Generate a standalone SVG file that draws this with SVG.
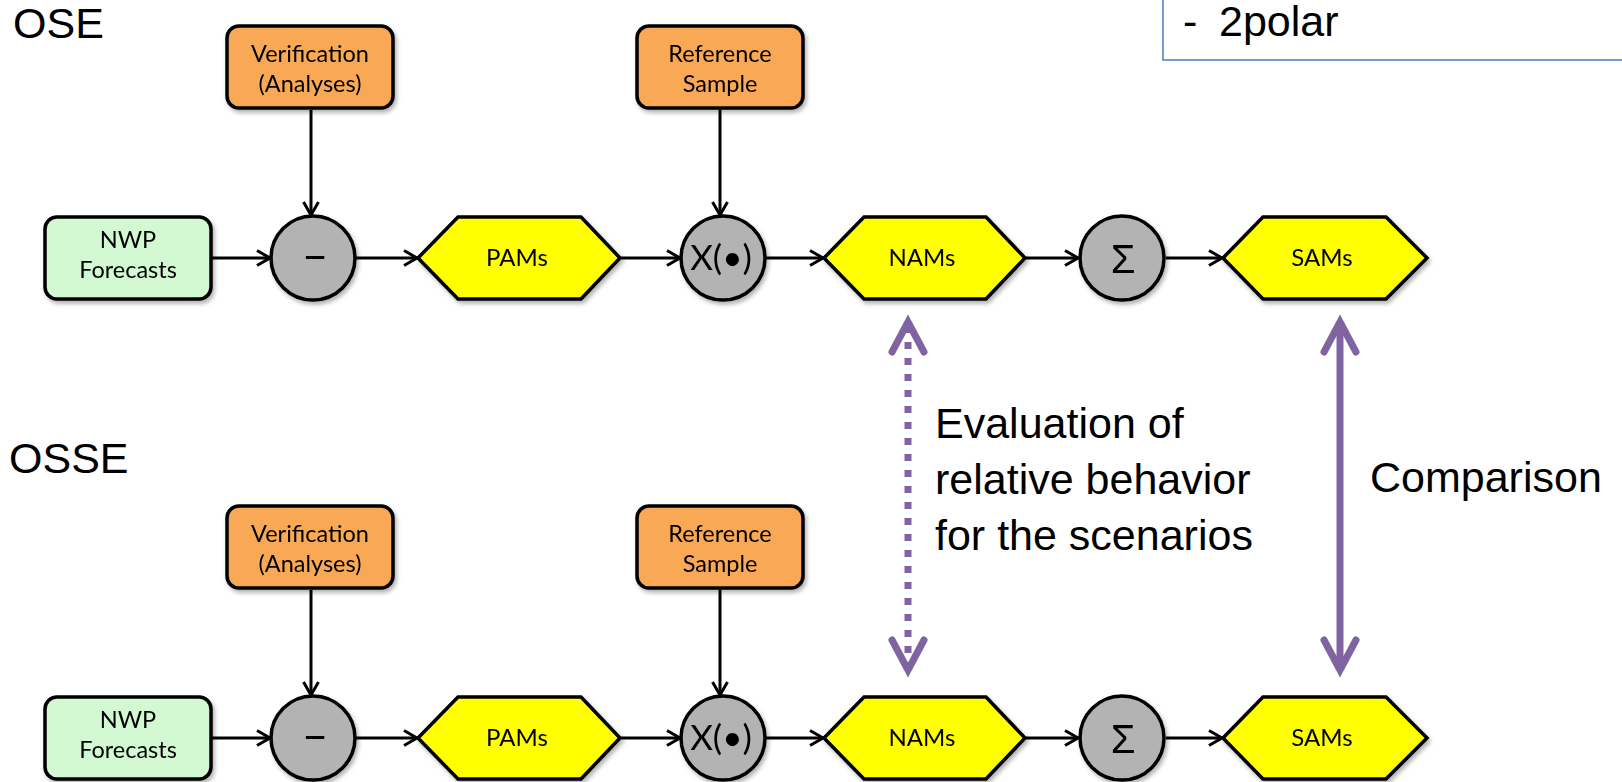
<svg xmlns="http://www.w3.org/2000/svg" width="1622" height="782" viewBox="0 0 1622 782">
<style>
.box{stroke:#000;stroke-width:3.5}
.org{fill:#F9A857}
.grn{fill:#D3F9D3}
.hex{fill:#FFFF00;stroke:#000;stroke-width:3.5;stroke-linejoin:miter}
.op{fill:#B3B3B3;stroke:#000;stroke-width:3.5}
.nt{font-family:Lato,"Liberation Sans",sans-serif;font-size:23.5px;fill:#000;text-anchor:middle}
.ht{font-family:Lato,"Liberation Sans",sans-serif;font-size:24px;fill:#000;text-anchor:middle}
.big{font-family:"Liberation Sans",Arial,sans-serif;font-size:43px;fill:#000}
.conn{stroke:#000;stroke-width:3;fill:none;marker-end:url(#ah)}
.pur{stroke:#8064A2;stroke-width:7;fill:none;marker-start:url(#ph);marker-end:url(#ph)}
.sym{font-family:Lato,"Liberation Sans",sans-serif;fill:#000;text-anchor:middle}
</style>
<defs>
<filter id="sh" x="-20%" y="-20%" width="140%" height="150%">
<feDropShadow dx="2" dy="3" stdDeviation="2" flood-color="#000" flood-opacity="0.3"/>
</filter>
<marker id="ah" viewBox="-16 -10 20 20" refX="0" refY="0" markerWidth="20" markerHeight="20" markerUnits="userSpaceOnUse" orient="auto">
<path d="M-13,-7.5 L0,0 L-13,7.5" fill="none" stroke="#000" stroke-width="3" stroke-linejoin="miter"/>
</marker>
<marker id="ph" viewBox="-36 -22 44 44" refX="-4" refY="0" markerWidth="44" markerHeight="44" markerUnits="userSpaceOnUse" orient="auto-start-reverse">
<path d="M-30,-16 L0,0 L-30,16" fill="none" stroke="#8064A2" stroke-width="7" stroke-linecap="round" stroke-linejoin="miter"/>
</marker>
</defs>
<rect width="1622" height="782" fill="#fff"/>

<g id="legend-box">
<rect x="1163" y="-10" width="480" height="70" fill="#fff" stroke="#4A7EBB" stroke-width="1.5"/>
<text class="big" x="1183" y="36">-</text>
<text class="big" x="1219" y="36">2polar</text>
</g>

<g id="label-ose"><text class="big" x="13" y="38">OSE</text></g>
<g id="label-osse"><text class="big" x="9" y="473">OSSE</text></g>

<g id="connectors">
<line class="conn" x1="311" y1="110" x2="311" y2="215"/>
<line class="conn" x1="720" y1="110" x2="720" y2="215"/>
<line class="conn" x1="212" y1="258" x2="270" y2="258"/>
<line class="conn" x1="356" y1="258" x2="417" y2="258"/>
<line class="conn" x1="621" y1="258" x2="680" y2="258"/>
<line class="conn" x1="766" y1="258" x2="823" y2="258"/>
<line class="conn" x1="1026" y1="258" x2="1078" y2="258"/>
<line class="conn" x1="1166" y1="258" x2="1222" y2="258"/>

<line class="conn" x1="311" y1="590" x2="311" y2="695"/>
<line class="conn" x1="720" y1="590" x2="720" y2="695"/>
<line class="conn" x1="212" y1="738" x2="270" y2="738"/>
<line class="conn" x1="356" y1="738" x2="417" y2="738"/>
<line class="conn" x1="621" y1="738" x2="680" y2="738"/>
<line class="conn" x1="766" y1="738" x2="823" y2="738"/>
<line class="conn" x1="1026" y1="738" x2="1078" y2="738"/>
<line class="conn" x1="1166" y1="738" x2="1222" y2="738"/>

<line class="pur" x1="908" y1="326" x2="908" y2="666" stroke-dasharray="7 9"/>
<line class="pur" x1="1340" y1="326" x2="1340" y2="666"/>
</g>

<g id="eval-label">
<text class="big" x="935" y="438">Evaluation of</text>
<text class="big" x="935" y="494">relative behavior</text>
<text class="big" x="935" y="550">for the scenarios</text>
</g>
<g id="comparison-label"><text class="big" x="1370" y="492">Comparison</text></g>

<!-- OSE row -->
<g id="ose-verification" filter="url(#sh)">
<rect class="box org" x="227" y="26" width="166" height="82" rx="12"/>
<text class="nt" x="310" y="62">Verification</text>
<text class="nt" x="310" y="92">(Analyses)</text>
</g>
<g id="ose-reference" filter="url(#sh)">
<rect class="box org" x="637" y="26" width="166" height="82" rx="12"/>
<text class="nt" x="720" y="62">Reference</text>
<text class="nt" x="720" y="92">Sample</text>
</g>
<g id="ose-nwp" filter="url(#sh)">
<rect class="box grn" x="45" y="217" width="166" height="82" rx="12"/>
<text class="nt" x="128" y="248">NWP</text>
<text class="nt" x="128" y="278">Forecasts</text>
</g>
<g id="ose-minus" filter="url(#sh)">
<circle class="op" cx="313" cy="258" r="42"/>
<text class="sym" x="315" y="271" font-size="46">–</text>
</g>
<g id="ose-pams" filter="url(#sh)">
<polygon class="hex" points="418,258 458,217 581,217 620,258 581,299 458,299"/>
<text class="ht" x="517" y="266">PAMs</text>
</g>
<g id="ose-x" filter="url(#sh)">
<circle class="op" cx="723" cy="258" r="42"/>
<text class="sym" x="721" y="270" font-size="35">X(•)</text>
</g>
<g id="ose-nams" filter="url(#sh)">
<polygon class="hex" points="824,258 864,217 986,217 1025,258 986,299 864,299"/>
<text class="ht" x="922" y="266">NAMs</text>
</g>
<g id="ose-sum" filter="url(#sh)">
<circle class="op" cx="1122" cy="258" r="42"/>
<text x="1123" y="273" font-family="'Liberation Sans',sans-serif" font-size="40" text-anchor="middle">Σ</text>
</g>
<g id="ose-sams" filter="url(#sh)">
<polygon class="hex" points="1223,258 1263,217 1386,217 1427,258 1386,299 1263,299"/>
<text class="ht" x="1322" y="266">SAMs</text>
</g>

<!-- OSSE row -->
<g id="osse-verification" filter="url(#sh)">
<rect class="box org" x="227" y="506" width="166" height="82" rx="12"/>
<text class="nt" x="310" y="542">Verification</text>
<text class="nt" x="310" y="572">(Analyses)</text>
</g>
<g id="osse-reference" filter="url(#sh)">
<rect class="box org" x="637" y="506" width="166" height="82" rx="12"/>
<text class="nt" x="720" y="542">Reference</text>
<text class="nt" x="720" y="572">Sample</text>
</g>
<g id="osse-nwp" filter="url(#sh)">
<rect class="box grn" x="45" y="697" width="166" height="82" rx="12"/>
<text class="nt" x="128" y="728">NWP</text>
<text class="nt" x="128" y="758">Forecasts</text>
</g>
<g id="osse-minus" filter="url(#sh)">
<circle class="op" cx="313" cy="738" r="42"/>
<text class="sym" x="315" y="751" font-size="46">–</text>
</g>
<g id="osse-pams" filter="url(#sh)">
<polygon class="hex" points="418,738 458,697 581,697 620,738 581,779 458,779"/>
<text class="ht" x="517" y="746">PAMs</text>
</g>
<g id="osse-x" filter="url(#sh)">
<circle class="op" cx="723" cy="738" r="42"/>
<text class="sym" x="721" y="750" font-size="35">X(•)</text>
</g>
<g id="osse-nams" filter="url(#sh)">
<polygon class="hex" points="824,738 864,697 986,697 1025,738 986,779 864,779"/>
<text class="ht" x="922" y="746">NAMs</text>
</g>
<g id="osse-sum" filter="url(#sh)">
<circle class="op" cx="1122" cy="738" r="42"/>
<text x="1123" y="753" font-family="'Liberation Sans',sans-serif" font-size="40" text-anchor="middle">Σ</text>
</g>
<g id="osse-sams" filter="url(#sh)">
<polygon class="hex" points="1223,738 1263,697 1386,697 1427,738 1386,779 1263,779"/>
<text class="ht" x="1322" y="746">SAMs</text>
</g>
</svg>
